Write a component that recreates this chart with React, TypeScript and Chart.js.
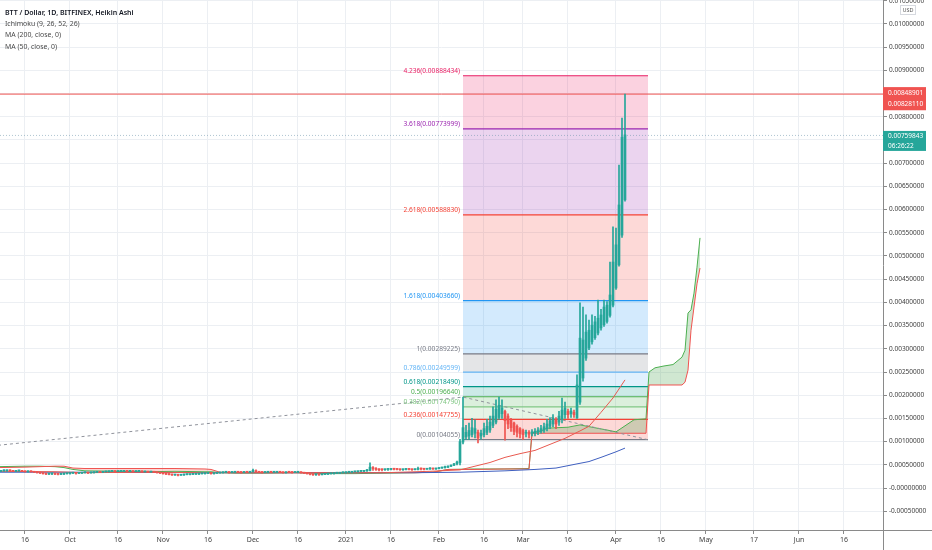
import React, { useEffect, useRef } from 'react';
import { Chart, registerables } from 'chart.js';

Chart.register(...registerables);

const FONT = '"Noto Sans", "Open Sans", sans-serif';

// ---------- axes ----------
const xMin = -8.3333;
const xMax = 286;
const yMin = -0.000905;
const yMax = 0.010517;

// days counted from 16 Sep 2020
const xTickDays = [0, 15, 31, 46, 61, 76, 91, 107, 122, 138, 153, 166, 181, 197, 212, 227, 243, 258, 273];
const xTickLabels = ['16', 'Oct', '16', 'Nov', '16', 'Dec', '16', '2021', '16', 'Feb', '16', 'Mar', '16', 'Apr', '16', 'May', '17', 'Jun', '16'];

const yTickValues = [
  -0.0005, 0, 0.0005, 0.001, 0.0015, 0.002, 0.0025, 0.003, 0.0035, 0.004, 0.0045, 0.005,
  0.0055, 0.006, 0.0065, 0.007, 0.0075, 0.008, 0.0085, 0.009, 0.0095, 0.01, 0.0105,
];
const yTickLabels = [
  '-0.00050000', '-0.00000000', '0.00050000', '0.00100000', '0.00150000', '0.00200000', '0.00250000',
  '0.00300000', '0.00350000', '0.00400000', '0.00450000', '0.00500000', '0.00550000', '0.00600000',
  '0.00650000', '0.00700000', '0.00750000', '0.00800000', '0.00850000', '0.00900000', '0.00950000',
  '0.01000000', '0.01050000',
];

// ---------- Heikin Ashi candles (day -8 = 8 Sep 2020, one per day) ----------
const firstCandleDay = -8;
const haOpen = [
  36e-5, 37e-5, 37e-5, 38e-5, 37e-5, 36e-5, 37e-5, 37e-5, 36e-5, 35e-5,
  36e-5, 35e-5, 34e-5, 33e-5, 32e-5, 31e-5, 30e-5, 30.5e-5, 31e-5, 30e-5,
  29.5e-5, 30e-5, 31e-5, 31e-5, 32e-5, 32e-5, 31.5e-5, 32e-5, 33e-5, 33e-5,
  32.5e-5, 33e-5, 34e-5, 34.5e-5, 34e-5, 35e-5, 35e-5, 36e-5, 36e-5, 35.5e-5,
  36e-5, 36e-5, 37e-5, 36e-5, 36e-5, 35.5e-5, 36e-5, 36e-5, 35e-5, 35e-5,
  34.5e-5, 35e-5, 34e-5, 33e-5, 32e-5, 31e-5, 30e-5, 29e-5, 28e-5, 28.5e-5,
  27.5e-5, 28e-5, 29e-5, 29e-5, 29.5e-5, 30e-5, 30e-5, 31e-5, 31e-5, 31.5e-5,
  32e-5, 31e-5, 32e-5, 32.5e-5, 33e-5, 34e-5, 34e-5, 33.5e-5, 34e-5, 34.5e-5,
  34e-5, 33.5e-5, 34.5e-5, 34e-5, 35e-5, 37e-5, 35e-5, 34e-5, 33.5e-5, 34e-5,
  35e-5, 34e-5, 34e-5, 35e-5, 34e-5, 33e-5, 34.5e-5, 34e-5, 33.5e-5, 34e-5,
  34e-5, 33e-5, 32e-5, 31e-5, 29.5e-5, 28.5e-5, 29e-5, 28.5e-5, 29.5e-5, 30e-5,
  31e-5, 31e-5, 32e-5, 32e-5, 33e-5, 33e-5, 34e-5, 34e-5, 35e-5, 35e-5,
  36e-5, 36e-5, 37e-5, 38e-5, 43e-5, 42e-5, 41e-5, 40e-5, 39.5e-5, 40e-5,
  40e-5, 41e-5, 40.5e-5, 40e-5, 39.5e-5, 40e-5, 40.5e-5, 40e-5, 39.5e-5, 40e-5,
  41.5e-5, 41e-5, 40.5e-5, 41e-5, 41.5e-5, 41e-5, 42e-5, 43e-5, 44e-5, 45e-5,
  47e-5, 49e-5, 52e-5,
  55e-5, 99e-5, 110e-5, 112e-5, 115e-5, 118e-5, 120e-5, 112e-5, 115e-5, 120e-5,
  125e-5, 135e-5, 142e-5, 152e-5, 160e-5, 165e-5, 155e-5, 147e-5, 140e-5, 133e-5,
  128e-5, 124e-5, 118e-5, 120e-5, 117e-5, 118e-5, 120e-5, 122e-5, 125e-5, 128e-5,
  133e-5, 138e-5, 146e-5, 142e-5, 148e-5, 158e-5, 165e-5, 160e-5, 163e-5, 151e-5,
  185e-5, 237e-5, 280e-5, 302e-5, 315e-5, 324e-5, 334e-5, 345e-5, 352e-5, 359e-5,
  372e-5, 394e-5, 431e-5, 481e-5, 545e-5, 621e-5,
];
const haHigh = [
  38e-5, 39e-5, 39e-5, 39e-5, 38e-5, 38e-5, 38e-5, 38e-5, 37e-5, 37e-5,
  37e-5, 36e-5, 35e-5, 34e-5, 33e-5, 32e-5, 31e-5, 32e-5, 32e-5, 31e-5,
  31e-5, 32e-5, 32e-5, 33e-5, 33e-5, 33e-5, 33e-5, 34e-5, 34e-5, 34e-5,
  34e-5, 35e-5, 35e-5, 35e-5, 36e-5, 36e-5, 37e-5, 37e-5, 37e-5, 37e-5,
  37e-5, 38e-5, 38e-5, 37e-5, 37e-5, 37e-5, 37e-5, 37e-5, 36e-5, 36e-5,
  36e-5, 36e-5, 35e-5, 34e-5, 33e-5, 32e-5, 31e-5, 30e-5, 29.5e-5, 29e-5,
  29e-5, 30e-5, 30e-5, 30e-5, 31e-5, 31e-5, 32e-5, 32e-5, 33e-5, 33e-5,
  33e-5, 33e-5, 34e-5, 34e-5, 35e-5, 35e-5, 35e-5, 35e-5, 35e-5, 35e-5,
  35e-5, 35e-5, 35e-5, 36e-5, 41e-5, 39e-5, 36e-5, 35e-5, 35e-5, 36e-5,
  36e-5, 35e-5, 36e-5, 36e-5, 35e-5, 35e-5, 35e-5, 35e-5, 35e-5, 35e-5,
  35e-5, 34e-5, 33e-5, 32e-5, 31e-5, 30e-5, 30e-5, 30e-5, 31e-5, 32e-5,
  32e-5, 33e-5, 33e-5, 34e-5, 34e-5, 35e-5, 35e-5, 36e-5, 36e-5, 37e-5,
  37e-5, 38e-5, 40e-5, 54e-5, 46e-5, 44e-5, 42e-5, 41e-5, 41e-5, 42e-5,
  42e-5, 42e-5, 42e-5, 41e-5, 41e-5, 42e-5, 42e-5, 41e-5, 41e-5, 45e-5,
  43e-5, 42e-5, 42e-5, 44e-5, 43e-5, 43e-5, 44e-5, 45e-5, 47e-5, 48e-5,
  50e-5, 53e-5, 58e-5,
  105e-5, 196e-5, 135e-5, 140e-5, 150e-5, 147e-5, 125e-5, 125e-5, 140e-5, 148e-5,
  155e-5, 175e-5, 190e-5, 196e-5, 190e-5, 168e-5, 160e-5, 150e-5, 142e-5, 136e-5,
  130e-5, 127e-5, 125e-5, 124e-5, 126e-5, 128e-5, 130e-5, 135e-5, 140e-5, 148e-5,
  152e-5, 158e-5, 152e-5, 165e-5, 194e-5, 185e-5, 170e-5, 172e-5, 168e-5, 244e-5,
  399e-5, 390e-5, 373e-5, 362e-5, 373e-5, 370e-5, 405e-5, 385e-5, 405e-5, 402e-5,
  487e-5, 563e-5, 560e-5, 696e-5, 797e-5, 849e-5,
];
const haLow = [
  35e-5, 36e-5, 36e-5, 36e-5, 35e-5, 35e-5, 36e-5, 35e-5, 34e-5, 34e-5,
  34e-5, 33e-5, 32e-5, 31e-5, 30e-5, 29e-5, 29e-5, 29e-5, 29e-5, 28e-5,
  29e-5, 29e-5, 30e-5, 30e-5, 31e-5, 30e-5, 31e-5, 31e-5, 32e-5, 31e-5,
  32e-5, 32e-5, 33e-5, 33e-5, 33e-5, 34e-5, 34e-5, 35e-5, 34e-5, 35e-5,
  35e-5, 35e-5, 35e-5, 35e-5, 34e-5, 35e-5, 35e-5, 34e-5, 34e-5, 33e-5,
  34e-5, 33e-5, 32e-5, 31e-5, 30e-5, 29e-5, 28e-5, 27e-5, 27e-5, 26e-5,
  27e-5, 27e-5, 28e-5, 28e-5, 29e-5, 29e-5, 29e-5, 30e-5, 30e-5, 31e-5,
  30e-5, 30e-5, 31e-5, 32e-5, 32e-5, 33e-5, 32e-5, 33e-5, 33e-5, 33e-5,
  32e-5, 33e-5, 33e-5, 33e-5, 34e-5, 34e-5, 33e-5, 32e-5, 33e-5, 33e-5,
  33e-5, 33e-5, 33e-5, 33e-5, 32e-5, 32e-5, 33e-5, 32e-5, 33e-5, 33e-5,
  32e-5, 31e-5, 30e-5, 28e-5, 27e-5, 27e-5, 27e-5, 28e-5, 29e-5, 29e-5,
  30e-5, 30e-5, 31e-5, 31e-5, 32e-5, 32e-5, 33e-5, 33e-5, 34e-5, 34e-5,
  35e-5, 35e-5, 36e-5, 37e-5, 38e-5, 38e-5, 37e-5, 37e-5, 38e-5, 38e-5,
  39e-5, 39e-5, 39e-5, 38e-5, 38e-5, 39e-5, 39e-5, 38e-5, 39e-5, 39e-5,
  39e-5, 39e-5, 40e-5, 40e-5, 40e-5, 40e-5, 41e-5, 42e-5, 43e-5, 44e-5,
  46e-5, 48e-5, 50e-5,
  50e-5, 95e-5, 104e-5, 104e-5, 110e-5, 108e-5, 97e-5, 105e-5, 110e-5, 115e-5,
  120e-5, 130e-5, 138e-5, 148e-5, 150e-5, 103e-5, 128e-5, 122e-5, 115e-5, 110e-5,
  108e-5, 104e-5, 110e-5, 108e-5, 112e-5, 112e-5, 115e-5, 118e-5, 120e-5, 123e-5,
  128e-5, 132e-5, 128e-5, 135e-5, 140e-5, 150e-5, 150e-5, 152e-5, 152e-5, 150e-5,
  180e-5, 230e-5, 275e-5, 298e-5, 310e-5, 320e-5, 330e-5, 340e-5, 348e-5, 355e-5,
  368e-5, 390e-5, 428e-5, 478e-5, 540e-5, 618e-5,
];
const haClose = [
  37e-5, 38e-5, 38e-5, 37e-5, 36e-5, 37e-5, 37.5e-5, 36e-5, 35e-5, 36e-5,
  35e-5, 34e-5, 33e-5, 32e-5, 31e-5, 30e-5, 30.5e-5, 31e-5, 30e-5, 29.5e-5,
  30.5e-5, 31e-5, 31.5e-5, 32e-5, 32.5e-5, 31.5e-5, 32.5e-5, 33e-5, 33.5e-5, 32.5e-5,
  33.5e-5, 34e-5, 34.5e-5, 34e-5, 35e-5, 35.5e-5, 36e-5, 36.5e-5, 35.5e-5, 36e-5,
  36.5e-5, 37e-5, 36e-5, 36.5e-5, 35.5e-5, 36e-5, 36.5e-5, 35e-5, 35.5e-5, 34.5e-5,
  35e-5, 34e-5, 33e-5, 32e-5, 31e-5, 30e-5, 29e-5, 28e-5, 28.5e-5, 27.5e-5,
  28.5e-5, 29e-5, 29.5e-5, 29.5e-5, 30e-5, 30.5e-5, 31e-5, 31.5e-5, 32e-5, 32e-5,
  31e-5, 32e-5, 33e-5, 33e-5, 34e-5, 34.5e-5, 33.5e-5, 34e-5, 34.5e-5, 34e-5,
  33.5e-5, 34.5e-5, 34e-5, 35e-5, 38e-5, 35e-5, 34e-5, 33.5e-5, 34e-5, 35e-5,
  34e-5, 34.5e-5, 35e-5, 34e-5, 33e-5, 34e-5, 34e-5, 33.5e-5, 34e-5, 34.5e-5,
  33e-5, 32e-5, 31e-5, 29.5e-5, 28.5e-5, 29e-5, 28.5e-5, 29.5e-5, 30.5e-5, 31e-5,
  31.5e-5, 32e-5, 32.5e-5, 33e-5, 33.5e-5, 34e-5, 34.5e-5, 35e-5, 35.5e-5, 36e-5,
  36.5e-5, 37e-5, 39e-5, 45e-5, 42e-5, 40e-5, 39e-5, 39.5e-5, 40e-5, 40.5e-5,
  41e-5, 40.5e-5, 40e-5, 39.5e-5, 40e-5, 41e-5, 40e-5, 39.5e-5, 40.5e-5, 42e-5,
  41e-5, 40.5e-5, 41e-5, 42e-5, 41e-5, 42e-5, 43e-5, 44e-5, 46e-5, 47e-5,
  49e-5, 52e-5, 56e-5,
  100e-5, 130e-5, 120e-5, 124e-5, 130e-5, 128e-5, 108e-5, 118e-5, 128e-5, 133e-5,
  142e-5, 155e-5, 170e-5, 178e-5, 172e-5, 145e-5, 138e-5, 130e-5, 122e-5, 120e-5,
  117e-5, 115e-5, 120e-5, 116e-5, 121e-5, 122e-5, 125e-5, 128e-5, 132e-5, 138e-5,
  145e-5, 150e-5, 138e-5, 155e-5, 168e-5, 172e-5, 158e-5, 166e-5, 158e-5, 222e-5,
  323e-5, 319e-5, 336e-5, 340e-5, 351e-5, 358e-5, 366e-5, 373e-5, 390e-5, 394e-5,
  416e-5, 487e-5, 524e-5, 610e-5, 756e-5, 761e-5,
];

// ---------- Ichimoku cloud (leading spans, shifted 26 days) ----------
const cloudDays = [
  -9, 0, 5, 10, 13, 16, 20, 30, 40, 50, 60, 62, 65, 70, 80, 90, 100, 110, 120, 130, 136, 141, 150, 160, 168,
  169, 172, 174, 181, 185, 189, 194, 197, 200, 203, 207, 208, 210, 213, 216, 219, 220, 221, 222, 223, 224, 225,
];
const leadSpanA = [
  0.00046, 0.00047, 0.00047, 0.00046, 0.00044, 0.0004, 0.00037, 0.00036, 0.00035, 0.00036, 0.00035, 0.00035, 0.00033,
  0.00032, 0.00032, 0.00033, 0.00031, 0.00031, 0.00032, 0.00033, 0.00034, 0.0004, 0.00041, 0.00041, 0.00042,
  0.00119, 0.00123, 0.00129, 0.00131, 0.00136, 0.00131, 0.00125, 0.00121, 0.00134, 0.00147, 0.00149,
  0.0025, 0.00259, 0.00263, 0.00266, 0.00282, 0.00297, 0.00377, 0.00384, 0.0042, 0.00476, 0.00539,
];
const leadSpanB = [
  0.00044, 0.00045, 0.00046, 0.00047, 0.00047, 0.00043, 0.00042, 0.00042, 0.00042, 0.00042, 0.00041, 0.0004, 0.00034,
  0.00033, 0.00033, 0.00033, 0.00033, 0.00033, 0.00033, 0.00033, 0.00034, 0.0004, 0.0004, 0.00041, 0.00041,
  0.00118, 0.00118, 0.00118, 0.00118, 0.00118, 0.00118, 0.00118, 0.00118, 0.00118, 0.00118, 0.00118,
  0.00222, 0.00222, 0.00222, 0.00222, 0.00222, 0.00228, 0.00254, 0.0034, 0.0039, 0.0044, 0.00474,
];

// ---------- moving averages ----------
const ma50Days = [-9, 10, 20, 40, 60, 80, 100, 120, 135, 145, 150, 155, 160, 165, 170, 175, 180, 185, 188, 192, 196, 200];
const ma50Values = [
  0.00036, 0.00035, 0.00033, 0.00034, 0.00033, 0.00033, 0.00033, 0.00033, 0.00036, 0.00039, 0.00047,
  0.00055, 0.00066, 0.00074, 0.00081, 0.00094, 0.00107, 0.00123, 0.00133, 0.00163, 0.00194, 0.00233,
];
const ma200Days = [-9, 20, 60, 100, 130, 145, 160, 170, 177, 184, 188, 192, 197, 200];
const ma200Values = [
  0.00034, 0.00034, 0.00033, 0.00033, 0.00033, 0.00034, 0.00037, 0.0004, 0.00043, 0.00052, 0.00057, 0.00066, 0.00078, 0.00086,
];

// ---------- Fibonacci extension ----------
const fibStartDay = 146;
const fibEndDay = 207.67;
const fibRatios = ['0', '0.236', '0.382', '0.5', '0.618', '0.786', '1', '1.618', '2.618', '3.618', '4.236'];
const fibPrices = [
  0.00104055, 0.00147755, 0.0017479, 0.0019664, 0.0021849, 0.00249599, 0.00289225, 0.0040366, 0.0058883, 0.00773999,
  0.00888434,
];
const fibColors = ['#787b86', '#f44336', '#81c784', '#4caf50', '#009688', '#64b5f6', '#787b86', '#2196f3', '#f44336', '#9c27b0', '#e91e63'];

// trend line of the fib tool
const trendDays = [-9, 146, 207.67];
const trendValues = [0.00092, 0.00196, 0.00104];

// ---------- price lines ----------
const highPrice = 0.00848901;
const prevPrice = 0.00828110;
const lastPrice = 0.00759843;
const countdown = '06:26:22';

const legendTitle = 'BTT / Dollar, 1D, BITFINEX, Heikin Ashi';
const legendLines = ['Ichimoku (9, 26, 52, 26)', 'MA (200, close, 0)', 'MA (50, close, 0)'];

const UP = '#26a69a';
const DOWN = '#ef5350';

function rgba(hex: string, a: number) {
  const n = parseInt(hex.slice(1), 16);
  return `rgba(${(n >> 16) & 255},${(n >> 8) & 255},${n & 255},${a})`;
}

const overlayPlugin = {
  id: 'overlay',
  afterDatasetsDraw(chart: any) {
    const { ctx, scales } = chart;
    const xs = scales.x;
    const ys = scales.y;
    ctx.save();
    ctx.font = `6.6px ${FONT}`;
    ctx.textAlign = 'right';
    ctx.textBaseline = 'bottom';
    const xr = xs.getPixelForValue(fibStartDay) - 3;
    fibRatios.forEach((r, i) => {
      const y = ys.getPixelForValue(fibPrices[i]);
      ctx.fillStyle = fibColors[i];
      ctx.fillText(`${r}(${fibPrices[i].toFixed(8)})`, xr, y - 1);
    });
    ctx.restore();
  },
  afterDraw(chart: any) {
    const { ctx, scales, chartArea } = chart;
    const ys = scales.y;
    const W = chart.width;
    const H = chart.height;
    ctx.save();
    // axis extensions
    ctx.strokeStyle = '#8a8a8a';
    ctx.lineWidth = 1;
    ctx.beginPath();
    ctx.moveTo(chartArea.right + 0.5, chartArea.bottom);
    ctx.lineTo(chartArea.right + 0.5, H);
    ctx.moveTo(chartArea.right, chartArea.bottom + 0.5);
    ctx.lineTo(W, chartArea.bottom + 0.5);
    ctx.stroke();

    const bx = chartArea.right;
    const bw = 43;
    // red box
    const yh = ys.getPixelForValue(highPrice);
    const yp = ys.getPixelForValue(prevPrice);
    ctx.fillStyle = '#f05350';
    ctx.fillRect(bx, yh - 7, bw, yp - yh + 13.5);
    // teal box
    const yl = ys.getPixelForValue(lastPrice);
    ctx.fillStyle = '#26a69a';
    ctx.fillRect(bx, yl - 4.5, bw, 20);
    ctx.fillStyle = '#ffffff';
    ctx.font = `6.5px ${FONT}`;
    ctx.textAlign = 'left';
    ctx.textBaseline = 'middle';
    ctx.fillText(highPrice.toFixed(8), bx + 5, yh - 1);
    ctx.fillText(prevPrice.toFixed(8), bx + 5, yp + 0.5);
    ctx.fillText(lastPrice.toFixed(8), bx + 5, yl + 0.8);
    ctx.fillText(countdown, bx + 5, yl + 10.3);

    // USD box
    ctx.fillStyle = '#ffffff';
    ctx.fillRect(bx + 17, 5, 16, 10);
    ctx.strokeStyle = '#d6d9df';
    ctx.strokeRect(bx + 17.5, 5.5, 15, 9);
    ctx.fillStyle = '#555555';
    ctx.font = `5.5px ${FONT}`;
    ctx.textAlign = 'center';
    ctx.fillText('USD', bx + 25, 10.2);

    // legend
    ctx.textAlign = 'left';
    ctx.textBaseline = 'middle';
    ctx.fillStyle = '#131722';
    ctx.font = `600 7px ${FONT}`;
    ctx.fillText(legendTitle, 5, 12.5);
    ctx.font = `6.9px ${FONT}`;
    ctx.fillStyle = '#4a4a4a';
    legendLines.forEach((t, i) => ctx.fillText(t, 5, 24 + i * 11.4));
    ctx.restore();
  },
};

function buildDatasets() {
  const ds: any[] = [];
  // fib bands and level lines
  fibPrices.forEach((p, i) => {
    ds.push({
      type: 'line',
      data: [
        { x: fibStartDay, y: p },
        { x: fibEndDay, y: p },
      ],
      borderColor: fibColors[i],
      borderWidth: 1.2,
      pointRadius: 0,
      fill: i === 0 ? false : { value: fibPrices[i - 1] },
      backgroundColor: rgba(fibColors[i], 0.2),
      order: 200 - i,
    });
  });
  // cloud
  const idxA = ds.length;
  const idxB = idxA + 1;
  ds.push({
    type: 'line',
    data: cloudDays.map((d, i) => ({ x: d, y: leadSpanA[i] })),
    borderColor: '#4caf50',
    borderWidth: 1,
    pointRadius: 0,
    fill: { target: idxB, above: 'rgba(67,160,71,0.25)', below: 'rgba(244,67,54,0.2)' },
    order: 60,
  });
  ds.push({
    type: 'line',
    data: cloudDays.map((d, i) => ({ x: d, y: leadSpanB[i] })),
    borderColor: '#ef5350',
    borderWidth: 1,
    pointRadius: 0,
    fill: false,
    order: 59,
  });
  // trend (dashed)
  ds.push({
    type: 'line',
    data: trendDays.map((d, i) => ({ x: d, y: trendValues[i] })),
    borderColor: '#8f929b',
    borderWidth: 1,
    borderDash: [3, 3],
    pointRadius: 0,
    fill: false,
    order: 50,
  });
  // MAs
  ds.push({
    type: 'line',
    data: ma200Days.map((d, i) => ({ x: d, y: ma200Values[i] })),
    borderColor: '#3f5fbf',
    borderWidth: 1,
    pointRadius: 0,
    fill: false,
    order: 41,
  });
  ds.push({
    type: 'line',
    data: ma50Days.map((d, i) => ({ x: d, y: ma50Values[i] })),
    borderColor: '#e8594f',
    borderWidth: 1,
    pointRadius: 0,
    fill: false,
    order: 40,
  });
  // price lines
  ds.push({
    type: 'line',
    data: [
      { x: xMin - 5, y: highPrice },
      { x: xMax + 5, y: highPrice },
    ],
    borderColor: '#ef5350',
    borderWidth: 1,
    pointRadius: 0,
    fill: false,
    order: 30,
  });
  ds.push({
    type: 'line',
    data: [
      { x: xMin - 5, y: lastPrice },
      { x: xMax + 5, y: lastPrice },
    ],
    borderColor: 'rgba(110,150,170,0.55)',
    borderWidth: 1,
    borderDash: [1, 2],
    pointRadius: 0,
    fill: false,
    order: 31,
  });
  // candles
  const colors = haOpen.map((o, i) => (haClose[i] >= o ? UP : DOWN));
  ds.push({
    type: 'bar',
    data: haOpen.map((_, i) => ({ x: firstCandleDay + i, y: [haLow[i], haHigh[i]] })),
    backgroundColor: colors,
    borderWidth: 0,
    barThickness: 1,
    minBarLength: 1,
    grouped: false,
    order: 11,
  });
  ds.push({
    type: 'bar',
    data: haOpen.map((o, i) => ({ x: firstCandleDay + i, y: [o, haClose[i]] })),
    backgroundColor: colors,
    borderWidth: 0,
    barThickness: 2,
    minBarLength: 1,
    grouped: false,
    order: 10,
  });
  return ds;
}

export default function App() {
  const ref = useRef<HTMLCanvasElement>(null);
  useEffect(() => {
    const canvas = ref.current;
    if (!canvas) return;
    const chart = new Chart(canvas, {
      type: 'bar',
      data: { datasets: buildDatasets() },
      options: {
        responsive: false,
        animation: false,
        devicePixelRatio: 1,
        events: [],
        layout: { padding: 0 },
        plugins: {
          legend: { display: false },
          tooltip: { enabled: false },
          filler: { drawTime: 'beforeDatasetsDraw' },
        },
        scales: {
          x: {
            type: 'linear',
            min: xMin,
            max: xMax,
            offset: false,
            afterBuildTicks: (scale: any) => {
              scale.ticks = xTickDays.map((v) => ({ value: v }));
            },
            afterFit: (scale: any) => {
              scale.height = 20;
              scale.paddingLeft = 0;
              scale.paddingRight = 0;
            },
            ticks: {
              autoSkip: false,
              maxRotation: 0,
              minRotation: 0,
              padding: 2,
              color: '#3f3f3f',
              font: { size: 7, family: FONT },
              callback: (_v: any, i: number) => xTickLabels[i],
            },
            grid: { color: '#eceff3', tickColor: '#8a8a8a', tickLength: 4, offset: false },
            border: { display: true, color: '#8a8a8a', width: 1 },
          },
          y: {
            type: 'linear',
            position: 'right',
            min: yMin,
            max: yMax,
            afterBuildTicks: (scale: any) => {
              scale.ticks = yTickValues.map((v) => ({ value: v }));
            },
            afterFit: (scale: any) => {
              scale.width = 49;
              scale.paddingTop = 0;
              scale.paddingBottom = 0;
            },
            ticks: {
              autoSkip: false,
              padding: 2,
              color: '#3f3f3f',
              font: { size: 6.5, family: FONT },
              callback: (_v: any, i: number) => yTickLabels[i],
            },
            grid: { color: '#eceff3', tickColor: '#8a8a8a', tickLength: 4 },
            border: { display: true, color: '#8a8a8a', width: 1 },
          },
        },
      } as any,
      plugins: [overlayPlugin],
    });
    return () => chart.destroy();
  }, []);
  return (
    <div style={{ position: 'fixed', left: 0, top: 0, width: 932, height: 550, background: '#ffffff' }}>
      <canvas ref={ref} width={932} height={550} style={{ display: 'block', width: 932, height: 550 }} />
    </div>
  );
}
